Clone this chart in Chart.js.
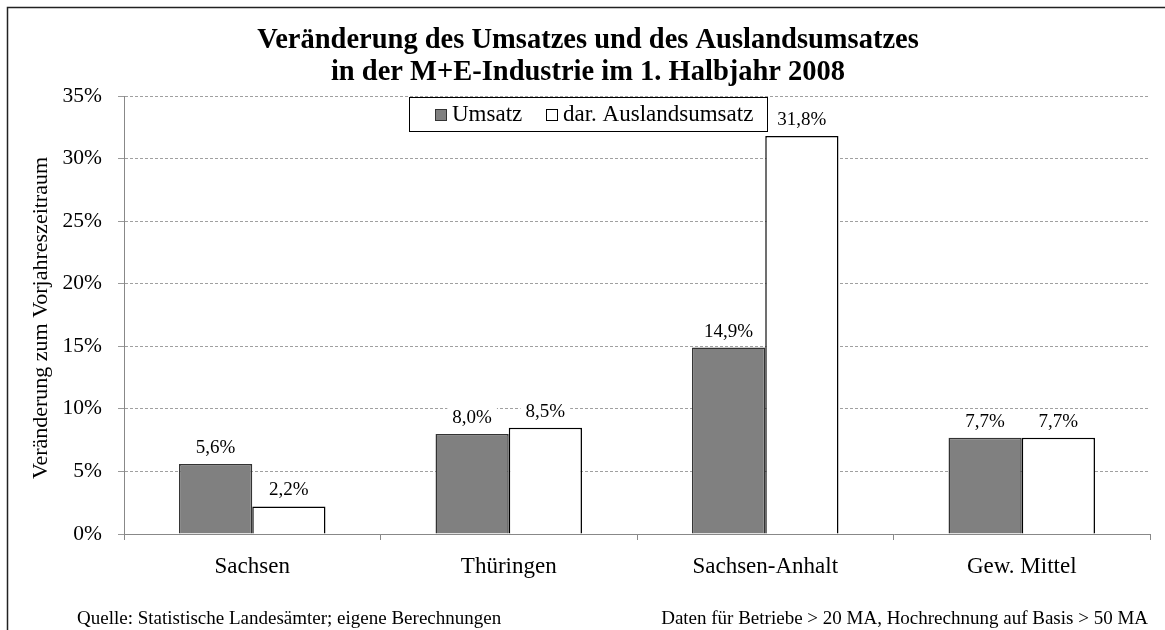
<!DOCTYPE html>
<html>
<head>
<meta charset="utf-8">
<script src="https://cdn.jsdelivr.net/npm/chart.js@4/dist/chart.umd.min.js"></script>
<style>
html,body{margin:0;padding:0;background:#fff;}
#wrap{width:1165px;height:630px;position:relative;}
</style>
</head>
<body>
<div id="wrap"><canvas id="c" width="1165" height="630"></canvas></div>
<script>
const categories = ["Sachsen", "Thüringen", "Sachsen-Anhalt", "Gew. Mittel"];
const umsatz = [5.6, 8.0, 14.9, 7.7];
const auslandsumsatz = [2.2, 8.5, 31.8, 7.7];
const seriesNames = ["Umsatz", "dar. Auslandsumsatz"];
const yTicks = [0, 5, 10, 15, 20, 25, 30, 35];
const titleLines = ["Veränderung des Umsatzes und des Auslandsumsatzes", "in der M+E-Industrie im 1. Halbjahr 2008"];
const yAxisTitle = "Veränderung zum Vorjahreszeitraum";
const sourceNote = "Quelle: Statistische Landesämter; eigene Berechnungen";
const dataNote = "Daten für Betriebe > 20 MA, Hochrechnung auf Basis > 50 MA";

const SERIF = "'Liberation Serif', 'Times New Roman', serif";
const fmt = v => v.toFixed(1).replace('.', ',') + '%';

const decor = {
  id: 'decor',
  afterDraw(chart) {
    const ctx = chart.ctx;
    ctx.save();
    // frame
    ctx.strokeStyle = '#222';
    ctx.lineWidth = 1.5;
    ctx.strokeRect(7.5, 7.5, 1300, 800);
    // title
    ctx.fillStyle = '#000';
    ctx.font = 'bold 28.5px ' + SERIF;
    ctx.textAlign = 'center';
    ctx.textBaseline = 'middle';
    ctx.fillText(titleLines[0], 588, 41);
    ctx.fillText(titleLines[1], 588, 73);
    // y axis title
    ctx.save();
    ctx.translate(41, 318);
    ctx.rotate(-Math.PI / 2);
    ctx.font = '22px ' + SERIF;
    ctx.fillText(yAxisTitle, 0, 0);
    ctx.restore();
    // footnotes
    ctx.font = '19px ' + SERIF;
    ctx.textAlign = 'left';
    ctx.fillText(sourceNote, 77, 619);
    ctx.textAlign = 'right';
    ctx.fillText(dataNote, 1148, 619);
    // legend
    const lx = 409, ly = 97, lw = 358, lh = 34;
    ctx.fillStyle = '#fff';
    ctx.fillRect(lx, ly, lw, lh);
    ctx.strokeStyle = '#000';
    ctx.lineWidth = 1;
    ctx.strokeRect(lx + 0.5, ly + 0.5, lw, lh);
    ctx.font = '23px ' + SERIF;
    ctx.textAlign = 'left';
    const items = [
      {x: 435, fill: '#808080', stroke: '#333', text: seriesNames[0]},
      {x: 546, fill: '#fff', stroke: '#000', text: seriesNames[1]}
    ];
    items.forEach(it => {
      ctx.fillStyle = it.fill;
      ctx.fillRect(it.x, 109, 11, 11);
      ctx.strokeStyle = it.stroke;
      ctx.strokeRect(it.x + 0.5, 109.5, 11, 11);
      ctx.fillStyle = '#000';
      ctx.fillText(it.text, it.x + 17, 115);
    });
    ctx.restore();
  },
  afterDatasetsDraw(chart) {
    const ctx = chart.ctx;
    ctx.save();
    ctx.font = '19px ' + SERIF;
    ctx.textAlign = 'center';
    ctx.textBaseline = 'middle';
    chart.data.datasets.forEach((ds, di) => {
      chart.getDatasetMeta(di).data.forEach((bar, i) => {
        const t = fmt(ds.data[i]);
        const w = ctx.measureText(t).width + 10;
        const y = bar.y - 16;
        ctx.fillStyle = '#fff';
        ctx.fillRect(bar.x - w / 2, y - 10, w, 20);
        ctx.fillStyle = '#000';
        ctx.fillText(t, bar.x, y);
      });
    });
    ctx.restore();
  }
};

new Chart(document.getElementById('c'), {
  type: 'bar',
  data: {
    labels: categories,
    datasets: [
      {label: seriesNames[0], data: umsatz, backgroundColor: '#808080', borderColor: '#333', borderWidth: 1.5, borderSkipped: 'bottom'},
      {label: seriesNames[1], data: auslandsumsatz, backgroundColor: '#fff', borderColor: '#000', borderWidth: 1.5, borderSkipped: 'bottom'}
    ]
  },
  options: {
    responsive: false,
    animation: false,
    devicePixelRatio: 1,
    layout: {padding: {left: 0, top: 96, right: 15, bottom: 0}},
    datasets: {bar: {barPercentage: 1, categoryPercentage: 0.571}},
    plugins: {legend: {display: false}, title: {display: false}, tooltip: {enabled: false}},
    scales: {
      x: {
        offset: true,
        afterFit: s => { s.height = 96; },
        grid: {display: true, drawOnChartArea: false, drawTicks: true, tickLength: 6, offset: true, color: '#888', lineWidth: 1},
        border: {display: true, color: '#888', width: 1},
        ticks: {font: {family: SERIF, size: 23}, color: '#000', padding: 13}
      },
      y: {
        min: 0, max: 35,
        afterFit: s => { s.width = 124; },
        afterBuildTicks: s => { s.ticks = yTicks.map(v => ({value: v})); },
        grid: {color: '#a0a0a0', lineWidth: 1, tickLength: 6, tickColor: '#999', drawOnChartArea: true},
        border: {display: true, color: '#888', width: 1, dash: [3, 2]},
        ticks: {font: {family: SERIF, size: 21.5}, color: '#000', padding: 16, callback: v => v + '%'}
      }
    }
  },
  plugins: [decor]
});
</script>
</body>
</html>
